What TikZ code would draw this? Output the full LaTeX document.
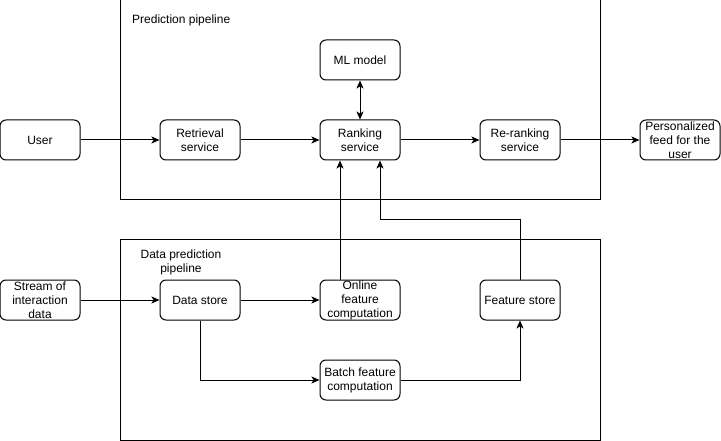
\documentclass[tikz,border=0pt]{standalone}
\usepackage{fontspec}
\setmainfont{Liberation Sans}
\usetikzlibrary{arrows.meta}
\begin{document}
\begin{tikzpicture}[x=1pt,y=-1pt,
  box/.style={draw,line width=1pt,rounded corners=6pt,minimum width=80pt,minimum height=40pt,inner sep=0pt,align=center,font=\fontsize{12}{14}\selectfont},
  group/.style={draw,line width=1pt},
  lbl/.style={font=\fontsize{12}{14}\selectfont,align=center,inner sep=0pt},
  arr/.style={line width=1pt,-{Stealth[length=8pt,width=7pt,inset=2pt]}},
  darr/.style={line width=1pt,{Stealth[length=8pt,width=7pt,inset=2pt]}-{Stealth[length=8pt,width=7pt,inset=2pt]}}]
\useasboundingbox (0,0) rectangle (721,441);
\fill[white] (0,0) rectangle (721,441);
% containers
\node[group,minimum width=480pt,minimum height=200pt,inner sep=0pt] (pp) at (360,100) {};
\node[group,minimum width=480pt,minimum height=200pt,inner sep=0pt] (dp) at (360,340) {};
\node[lbl,anchor=west] (ppl) at (132,20) {Prediction pipeline};
\node[lbl] (dpl) at (181,262) {Data prediction\\pipeline};
% nodes
\node[box] (user) at (40,140) {User};
\node[box] (retr) at (200,140) {Retrieval\\service};
\node[box] (ml) at (360,60) {ML model};
\node[box] (rank) at (360,140) {Ranking\\service};
\node[box] (rerank) at (520,140) {Re-ranking\\service};
\node[box] (feed) at (680,140) {Personalized\\feed for the\\user};
\node[box] (stream) at (40,300) {Stream of\\interaction\\data};
\node[box] (dstore) at (200,300) {Data store};
\node[box] (online) at (360,300) {Online\\feature\\computation};
\node[box] (fstore) at (520,300) {Feature store};
\node[box] (batch) at (360,380) {Batch feature\\computation};
% connectors
\draw[arr] (user) -- (retr);
\draw[arr] (retr) -- (rank);
\draw[darr] (ml) -- (rank);
\draw[arr] (rank) -- (rerank);
\draw[arr] (rerank) -- (feed);
\draw[arr] (stream) -- (dstore);
\draw[arr] (dstore) -- (online);
\draw[arr] (dstore.south) |- (batch.west);
\draw[arr] (batch.east) -| (fstore.south);
\draw[arr] ([xshift=-20pt]online.north) -- ([xshift=-20pt]rank.south);
\coordinate (turn) at (520,220);
\draw[arr] (fstore.north) -- (turn) -| ([xshift=20pt]rank.south);
\end{tikzpicture}
\end{document}
